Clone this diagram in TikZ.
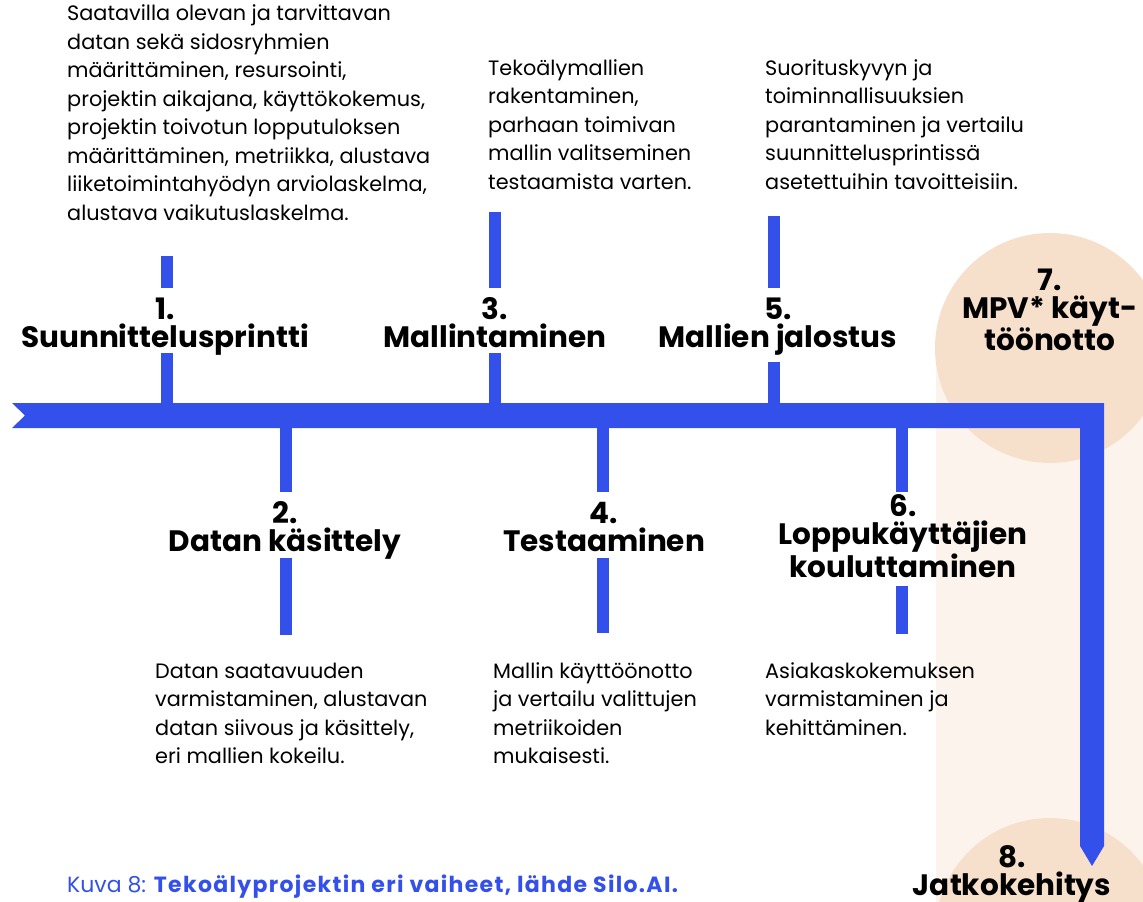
\documentclass[tikz,border=0pt]{standalone}
\usepackage{fontspec}
\setmainfont{Poppins}
\definecolor{barblue}{RGB}{52,80,235}
\definecolor{band}{RGB}{252,243,236}
\definecolor{circ}{RGB}{247,224,203}
\begin{document}
\begin{tikzpicture}[x=1pt,y=-1pt,
  tickline/.style={barblue,line width=12pt},
  title/.style={font=\fontsize{29.5}{28}\selectfont\bfseries,align=center,inner sep=0pt,anchor=base},
  body/.style={font=\fontsize{20.8}{28.5}\selectfont,align=left,inner sep=0pt,anchor=base west},
]
\useasboundingbox (0,0) rectangle (1143,902);
\fill[white] (0,0) rectangle (1143,902);
\fill[band] (936,348) rectangle (1143,902);
\begin{scope}
\clip (0,0) rectangle (1143,902);
\fill[circ] (1050,348) circle (115pt);
\fill[circ] (1050,933) circle (115pt);
\end{scope}
% main arrow
\coordinate (tail) at (12,403);
\coordinate (corner) at (1104,403);
\coordinate (tip) at (1092,866);
\fill[barblue] (tail) -- (corner) -- (1104,846) -- (tip) -- (1080,846) -- (1080,428) -- (12,428) -- (25,415.5) -- cycle;
% ticks
\coordinate (t1a) at (167,256); \coordinate (t1b) at (167,288); \coordinate (t1c) at (167,353); \coordinate (t1d) at (167,404);
\coordinate (t3a) at (495,212); \coordinate (t3b) at (495,288); \coordinate (t3c) at (495,353); \coordinate (t3d) at (495,404);
\coordinate (t5a) at (774,216); \coordinate (t5b) at (774,288); \coordinate (t5c) at (774,362); \coordinate (t5d) at (774,404);
\coordinate (t2a) at (286,427); \coordinate (t2b) at (286,492); \coordinate (t2c) at (286,558); \coordinate (t2d) at (286,635);
\coordinate (t4a) at (603,427); \coordinate (t4b) at (603,492); \coordinate (t4c) at (603,558); \coordinate (t4d) at (603,633);
\coordinate (t6a) at (902,427); \coordinate (t6b) at (902,492); \coordinate (t6c) at (902,586); \coordinate (t6d) at (902,634);
\foreach \t in {1,3,5,2,4,6}{
  \draw[tickline] (t\t a) -- (t\t b);
  \draw[tickline] (t\t c) -- (t\t d);
}
% titles (anchor = baseline of last line)
\node[title] (n1) at (165,347) {1.\\Suunnittelusprintti};
\node[title] (n3) at (495,347) {3.\\Mallintaminen};
\node[title] (n5) at (778,347) {5.\\Mallien jalostus};
\node[title] (n2) at (285,551) {2.\\Datan käsittely};
\node[title] (n4) at (604,551) {4.\\Testaaminen};
\node[title] (n6) at (903,577) {6.\\Loppukäyttäjien\\kouluttaminen};
\node[title] (n7) at (1050,350) {7.\\MPV* käyt-\\töönotto};
\node[title] (n8) at (1012,895) {8.\\Jatkokehitys};
% descriptions (anchor = baseline of last line)
\node[body] (d1) at (67,220) {Saatavilla olevan ja tarvittavan\\datan sekä sidosryhmien\\määrittäminen, resursointi,\\projektin aikajana, käyttökokemus,\\projektin toivotun lopputuloksen\\määrittäminen, metriikka, alustava\\liiketoimintahyödyn arviolaskelma,\\alustava vaikutuslaskelma.};
\node[body] (d3) at (488,189) {Tekoälymallien\\rakentaminen,\\parhaan toimivan\\mallin valitseminen\\testaamista varten.};
\node[body] (d5) at (765,189) {Suorituskyvyn ja\\toiminnallisuuksien\\parantaminen ja vertailu\\suunnittelusprintissä\\asetettuihin tavoitteisiin.};
\node[body] (d2) at (155,763.5) {Datan saatavuuden\\varmistaminen, alustavan\\datan siivous ja käsittely,\\eri mallien kokeilu.};
\node[body] (d4) at (493,763.5) {Mallin käyttöönotto\\ja vertailu valittujen\\metriikoiden\\mukaisesti.};
\node[body] (d6) at (765,735) {Asiakaskokemuksen\\varmistaminen ja\\kehittäminen.};
% caption
\node[anchor=base west,inner sep=0pt,text=barblue,font=\fontsize{22}{24}\selectfont] (cap) at (67,892) {Kuva 8: \textbf{\addfontfeature{LetterSpace=6}Tekoälyprojektin eri vaiheet, lähde Silo.AI.}};
\end{tikzpicture}
\end{document}
